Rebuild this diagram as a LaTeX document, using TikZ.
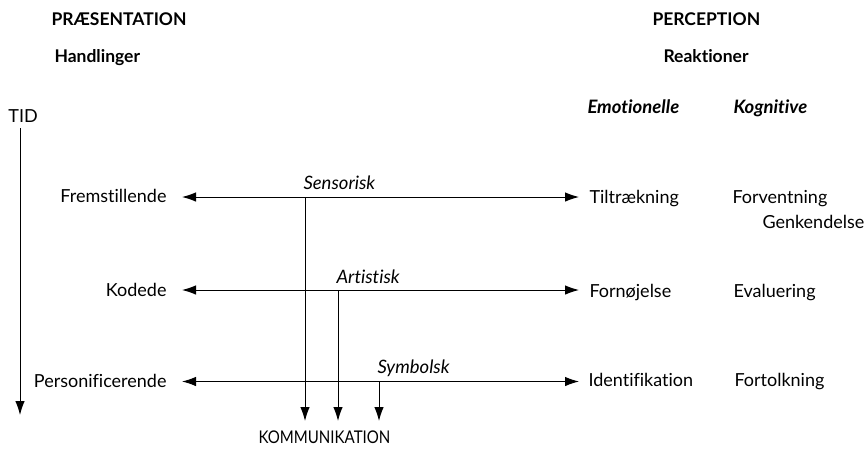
\documentclass[tikz,border=0pt]{standalone}
\usepackage{fontspec}
\setmainfont{Lato}[Ligatures={NoCommon}]
\usetikzlibrary{arrows.meta}
\begin{document}
\begin{tikzpicture}[x=1pt,y=-1pt,
  txt/.style={inner sep=0pt, anchor=base west, font=\fontsize{18}{21}\selectfont},
  hdr/.style={txt, font=\fontsize{17.5}{21}\selectfont\bfseries},
  colhdr/.style={txt, font=\fontsize{18.5}{21}\selectfont\bfseries\itshape},
  lbl/.style={txt, font=\fontsize{18.5}{21}\selectfont\itshape},
  caps/.style={txt, font=\fontsize{17.5}{21}\selectfont},
  tip/.style={-{Latex[length=14pt,width=9.5pt]}},
  both/.style={{Latex[length=14pt,width=9.5pt]}-{Latex[length=14pt,width=9.5pt]}},
  line width=1pt]
\useasboundingbox (0,0) rectangle (868,453);
% headers
\node[hdr] (pres) at (51,25) {PRÆSENTATION};
\node[hdr] (handl) at (54,62) {Handlinger};
\node[hdr] (perc) at (652,25) {PERCEPTION};
\node[hdr] (reak) at (663,62) {Reaktioner};
\node[colhdr] (emo) at (587,113) {Emotionelle};
\node[colhdr] (kog) at (733,113) {Kognitive};
% time axis
\node[txt] (tid) at (8,122) {TID};
\coordinate (tidtop) at (20,128);
\coordinate (tidend) at (20,415);
\draw[tip] (tidtop) -- (tidend);
% left labels
\node[txt, anchor=base east] (frem) at (167,202) {Fremstillende};
\node[txt, anchor=base east] (kod) at (167,296) {Kodede};
\node[txt, anchor=base east] (pers) at (167,387) {Personificerende};
% right labels
\node[txt] (tilt) at (589,203) {Tiltrækning};
\node[txt] (forn) at (589,297) {Fornøjelse};
\node[txt] (iden) at (588,386) {Identifikation};
\node[txt] (forv) at (732,203) {Forventning};
\node[txt] (genk) at (762,228) {Genkendelse};
\node[txt] (eval) at (733,297) {Evaluering};
\node[txt] (fort) at (734,386) {Fortolkning};
% row anchors
\coordinate (l1) at (182,197); \coordinate (r1) at (579,197);
\coordinate (l2) at (182,290); \coordinate (r2) at (579,290);
\coordinate (l3) at (182,381.5); \coordinate (r3) at (579,381.5);
\draw[both] (l1) -- (r1);
\draw[both] (l2) -- (r2);
\draw[both] (l3) -- (r3);
% channel labels
\node[lbl] (sens) at (303,189) {Sensorisk};
\node[lbl] (art) at (336,283) {Artistisk};
\node[lbl] (sym) at (377,373) {Symbolsk};
% verticals
\coordinate (s1) at (305,197); \coordinate (s2) at (305,421);
\coordinate (a1) at (338,290); \coordinate (a2) at (338,421);
\coordinate (y1) at (379,381.5); \coordinate (y2) at (379,421);
\draw[tip] (s1) -- (s2);
\draw[tip] (a1) -- (a2);
\draw[tip] (y1) -- (y2);
\node[caps] (komm) at (258,443) {\scalebox{0.86}[1]{KOMMUNIKATION}};
\end{tikzpicture}
\end{document}
